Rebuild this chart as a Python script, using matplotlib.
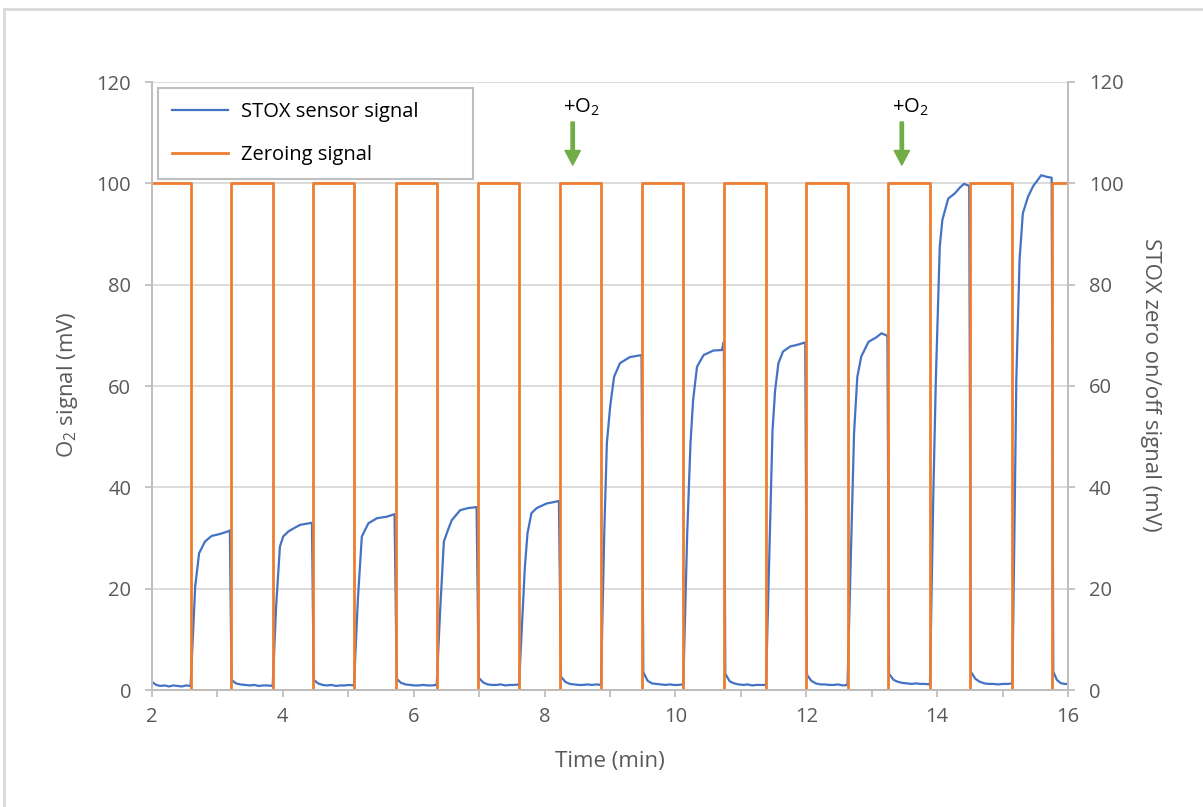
import numpy as np
import matplotlib
matplotlib.use("Agg")
import matplotlib.pyplot as plt
from matplotlib.lines import Line2D

plt.rcParams['font.family'] = ['Open Sans', 'DejaVu Sans']
plt.rcParams['mathtext.fontset'] = 'custom'
plt.rcParams['mathtext.rm'] = 'Open Sans'
plt.rcParams['mathtext.default'] = 'regular'

# zeroing (orange) square wave: edge times (min) and level of each segment
zero_edges = [2.0, 2.59, 3.20, 3.845, 4.456, 5.087, 5.725, 6.351, 6.978, 7.609, 8.236,
              8.862, 9.494, 10.12, 10.747, 11.384, 11.995, 12.63, 13.25, 13.89, 14.50,
              15.15, 15.76, 16.0]
zero_levels = [100, 0, 100, 0, 100, 0, 100, 0, 100, 0, 100, 0,
               100, 0, 100, 0, 100, 0, 100, 0, 100, 0, 100]

# sensor (blue) response while zeroing is off: time since switch-off (min), signal (mV)
rise_dt = [
    [0, 0.07, 0.13, 0.22, 0.32, 0.45, 0.57, 0.60],
    [0, 0.05, 0.11, 0.16, 0.24, 0.32, 0.42, 0.60],
    [0, 0.06, 0.12, 0.22, 0.35, 0.50, 0.62],
    [0, 0.05, 0.11, 0.17, 0.23, 0.36, 0.48, 0.61],
    [0, 0.04, 0.09, 0.13, 0.19, 0.27, 0.42, 0.61],
    [0, 0.05, 0.09, 0.14, 0.20, 0.29, 0.44, 0.62],
    [0, 0.06, 0.11, 0.15, 0.21, 0.31, 0.46, 0.59, 0.62],
    [0, 0.06, 0.10, 0.14, 0.19, 0.26, 0.37, 0.47, 0.60],
    [0, 0.06, 0.10, 0.15, 0.21, 0.32, 0.44, 0.52, 0.61],
    [0, 0.05, 0.09, 0.15, 0.19, 0.28, 0.38, 0.46, 0.52, 0.60],
    [0, 0.03, 0.06, 0.11, 0.16, 0.24, 0.32, 0.39, 0.44, 0.52, 0.60],
]
rise_val = [
    [0.8, 20.4, 27.0, 29.3, 30.4, 30.8, 31.3, 31.5],
    [0.9, 16.0, 28.3, 30.3, 31.3, 31.9, 32.6, 33.0],
    [0.9, 18.0, 30.3, 32.9, 33.9, 34.2, 34.7],
    [0.9, 15.0, 29.3, 31.5, 33.5, 35.5, 35.9, 36.1],
    [0.9, 11.2, 24.3, 30.9, 34.9, 35.9, 36.8, 37.3],
    [1.0, 30.9, 48.7, 55.9, 61.8, 64.5, 65.7, 66.1],
    [1.0, 30.9, 48.7, 57.2, 63.8, 66.1, 67.0, 67.1, 68.7],
    [1.0, 30.9, 51.3, 59.2, 64.5, 66.8, 67.8, 68.1, 68.6],
    [1.0, 30.9, 50.7, 61.8, 65.8, 68.7, 69.6, 70.4, 69.9],
    [1.2, 37.5, 61.2, 87.5, 92.8, 97.0, 98.0, 99.2, 99.9, 99.5],
    [1.2, 30.0, 61.2, 85.0, 94.1, 97.4, 99.5, 100.7, 101.6, 101.3, 101.1],
]
# sensor signal while zeroing is on (mV), spread over each zeroing period
off_val = [
    [1.6, 1.0, 0.8, 0.9, 0.7, 0.9, 0.8, 0.7, 0.9, 0.8],
    [2.0, 1.3, 1.1, 1.0, 0.9, 1.0, 0.8, 0.9, 0.9, 0.8],
    [2.0, 1.3, 1.0, 0.9, 1.0, 0.8, 0.9, 0.9, 1.0, 0.9],
    [2.2, 1.4, 1.1, 1.0, 0.9, 0.9, 1.0, 0.9, 0.9, 1.0],
    [2.4, 1.5, 1.1, 1.0, 1.0, 1.1, 0.9, 1.0, 1.0, 1.1],
    [2.6, 1.6, 1.2, 1.1, 1.0, 1.0, 1.1, 1.0, 1.1, 1.0],
    [3.5, 1.8, 1.3, 1.2, 1.1, 1.0, 1.1, 1.0, 1.0, 1.1],
    [3.2, 1.7, 1.3, 1.1, 1.0, 1.1, 0.9, 1.0, 1.0, 1.0],
    [3.0, 1.8, 1.3, 1.1, 1.1, 1.0, 1.0, 1.1, 0.9, 1.0],
    [3.2, 2.0, 1.6, 1.4, 1.3, 1.2, 1.3, 1.2, 1.2, 1.1],
    [3.6, 2.2, 1.6, 1.3, 1.2, 1.2, 1.1, 1.2, 1.2, 1.3],
    [3.6, 2.0, 1.4, 1.2, 1.2],
]
o2_times = [8.43, 13.46]

# build series
zx, zy = [], []
for i, lvl in enumerate(zero_levels):
    zx += [zero_edges[i], zero_edges[i + 1]]
    zy += [lvl, lvl]

bx, by = [], []
k_on, k_off = 0, 0
for i in range(len(zero_levels)):
    t0, t1 = zero_edges[i], zero_edges[i + 1]
    if zero_levels[i] == 100:
        vals = off_val[k_off]
        start = t0 if i == 0 else t0 + 0.015
        bx += list(np.linspace(start, t1 - 0.005, len(vals)))
        by += vals
        k_off += 1
    else:
        bx += [t0 + d for d in rise_dt[k_on]]
        by += rise_val[k_on]
        k_on += 1

grey = '#595959'
fig = plt.figure(figsize=(12.03, 8.07), dpi=100)
ax = fig.add_axes([152 / 1203, 1 - 690 / 807, 916 / 1203, 608 / 807])
ax2 = ax.twinx()

l1, = ax.plot(bx, by, color='#4472C4', lw=1.6, label='STOX sensor signal')
l2, = ax2.plot(zx, zy, color='#ED7D31', lw=2.0, label='Zeroing signal')

for a in (ax, ax2):
    a.set_ylim(0, 120)
    a.set_yticks(range(0, 121, 20))
    a.set_xlim(2, 16)
    for s in a.spines.values():
        s.set_color('#BFBFBF')
        s.set_linewidth(1.3)
    a.spines['top'].set_visible(False)
    a.tick_params(axis='y', length=5, width=1.3, color='#BFBFBF', pad=10,
                  labelsize=14.5, labelcolor=grey)

ax.set_xticks(range(2, 17, 2))
ax.set_xticks(range(3, 17, 2), minor=True)
ax.tick_params(axis='x', which='both', length=5, width=1.3, color='#BFBFBF',
               pad=7, labelsize=14.5, labelcolor=grey)
ax.grid(axis='y', color='#D9D9D9', lw=1.3)
ax.set_axisbelow(True)

fig.text(610 / 1203, 1 - 762 / 807, 'Time (min)', ha='center', va='center',
         fontsize=16, color=grey)
fig.text(68 / 1203, 1 - 385 / 807, 'O$_2$ signal (mV)', ha='center', va='center',
         rotation=90, fontsize=16, color=grey)
fig.text(1150 / 1203, 1 - 385 / 807, 'STOX zero on/off signal (mV)', ha='center',
         va='center', rotation=-90, fontsize=16, color=grey)

for t in o2_times:
    ax2.annotate('', xy=(t, 103.6), xytext=(t, 112.1),
                 arrowprops=dict(width=2.4, headwidth=11, headlength=10.5,
                                 color='#70AD47', shrink=0))
    ax2.text(t - 0.15, 113.9, '+O$_2$', ha='left', va='baseline', fontsize=14.5,
             color='black')

leg = ax2.legend(handles=[l1, l2], loc='upper left', mode='expand',
                 bbox_to_anchor=(6 / 916, 1 - 180 / 608 + 82 / 608, 315 / 916, 92 / 608),
                 borderaxespad=0, borderpad=0.7, fontsize=14.5, handlelength=2.8,
                 handletextpad=0.6, labelspacing=1.15, fancybox=False, framealpha=1)
leg.get_frame().set_edgecolor('#BFBFBF')
leg.get_frame().set_linewidth(1.5)

fig.add_artist(Line2D([3.5 / 1203, 1], [1 - 8.5 / 807, 1 - 8.5 / 807],
                      transform=fig.transFigure, color='#D9D9D9', lw=2))
fig.add_artist(Line2D([3.5 / 1203, 3.5 / 1203], [0, 1 - 8.5 / 807],
                      transform=fig.transFigure, color='#D9D9D9', lw=2))

fig.savefig('out.png', dpi=100)
